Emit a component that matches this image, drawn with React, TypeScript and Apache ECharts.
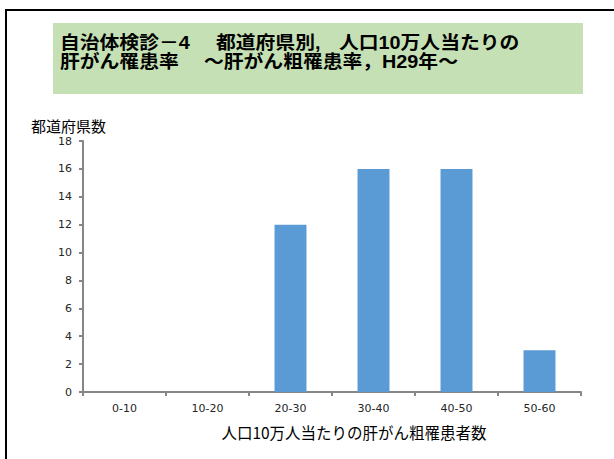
import React, { useEffect, useRef } from "react";
import * as echarts from "echarts";

const categories = ["0-10", "10-20", "20-30", "30-40", "40-50", "50-60"];
const prefectureCounts = [0, 0, 12, 16, 16, 3];
const titleLine1 = ["自治体検診－4", "都道府県別,", "人口10万人当たりの"];
const titleLine2 = ["肝がん罹患率", "～肝がん粗罹患率，H29年～"];
const yAxisName = "都道府県数";
const xAxisName = "人口10万人当たりの肝がん粗罹患者数";

export default function App() {
  const ref = useRef<HTMLDivElement>(null);
  useEffect(() => {
    document.body.style.margin = "0";
    const chart = echarts.init(ref.current!, null, { renderer: "svg" });
    const axisColor = "#868686";
    const labelFont = "DejaVu Sans, Verdana, sans-serif";
    const cjk = "'Noto Sans CJK JP', sans-serif";
    const titleFont = `bold 18px 'Liberation Sans', 'Noto Sans CJK JP', sans-serif`;
    const line1X = [60, 216, 339];
    const line2X = [60, 204];
    const titleTexts: any[] = [];
    titleLine1.forEach((t, i) =>
      titleTexts.push({
        type: "text",
        x: line1X[i],
        y: 43,
        scaleX: 1.1,
        style: { text: t, font: titleFont, fill: "#000", textVerticalAlign: "middle", lineHeight: 18 },
      })
    );
    titleLine2.forEach((t, i) =>
      titleTexts.push({
        type: "text",
        x: line2X[i],
        y: 62,
        scaleX: 1.1,
        style: { text: t, font: titleFont, fill: "#000", textVerticalAlign: "middle", lineHeight: 18 },
      })
    );
    chart.setOption({
      animation: false,
      backgroundColor: "#ffffff",
      grid: { left: 83, right: 33, top: 141, bottom: 67, containLabel: false },
      xAxis: {
        type: "category",
        data: categories,
        boundaryGap: true,
        axisLine: { show: true, lineStyle: { color: axisColor, width: 2 } },
        axisTick: { show: true, length: 4, interval: 0, lineStyle: { color: axisColor, width: 2 } },
        axisLabel: { color: "#262626", fontSize: 11, fontFamily: labelFont, margin: 11 },
        splitLine: { show: false },
      },
      yAxis: {
        type: "value",
        min: 0,
        max: 18,
        interval: 2,
        axisLine: { show: true, lineStyle: { color: axisColor, width: 2 } },
        axisTick: { show: true, length: 4, lineStyle: { color: axisColor, width: 2 } },
        axisLabel: { color: "#262626", fontSize: 11, fontFamily: labelFont, margin: 11 },
        splitLine: { show: false },
      },
      series: [
        {
          type: "bar",
          data: prefectureCounts,
          barWidth: "38.5%",
          itemStyle: { color: "#5B9BD5" },
        },
      ],
      graphic: [
        { type: "rect", shape: { x: 5, y: 9, width: 609, height: 2 }, style: { fill: "#000" }, silent: true },
        { type: "rect", shape: { x: 5, y: 9, width: 2, height: 450 }, style: { fill: "#000" }, silent: true },
        { type: "rect", shape: { x: 53, y: 23, width: 530, height: 71 }, style: { fill: "#C5E0B4" }, silent: true },
        ...titleTexts,
        {
          type: "text",
          x: 31,
          y: 125,
          style: { text: yAxisName, font: `15px ${cjk}`, fill: "#000", textVerticalAlign: "middle" },
        },
        {
          type: "text",
          x: 354,
          y: 432,
          style: { text: xAxisName, font: `15.5px ${cjk}`, fill: "#000", textAlign: "center", textVerticalAlign: "middle" },
        },
      ],
    });
    return () => chart.dispose();
  }, []);
  return <div ref={ref} style={{ position: "fixed", left: 0, top: 0, width: 614, height: 459 }} />;
}
